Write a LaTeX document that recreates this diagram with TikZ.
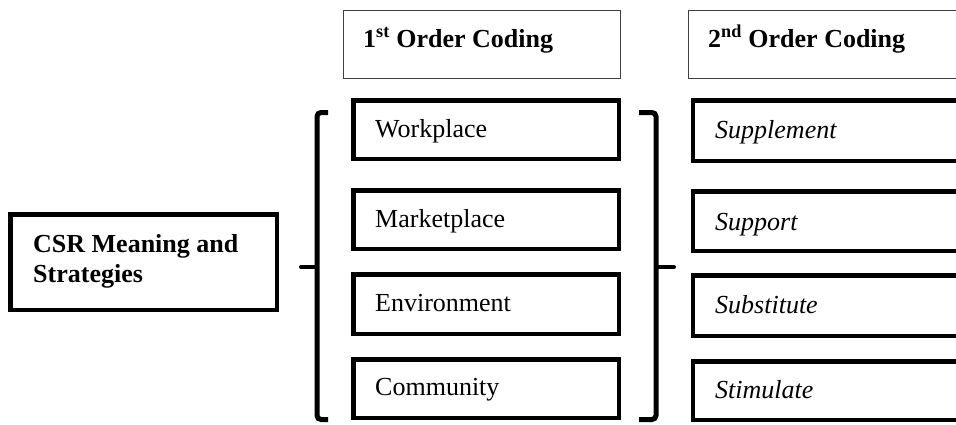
\documentclass[tikz,border=0pt]{standalone}
\usepackage{fontspec}
\setmainfont{Liberation Serif}
\begin{document}
\begin{tikzpicture}[x=1pt,y=-1pt,
  thinbox/.style={draw=black!75,line width=1pt,inner sep=0pt},
  thickbox/.style={draw=black,line width=4.5pt,inner sep=0pt},
  lbl/.style={anchor=base west,inner sep=0pt,font=\fontsize{26}{30}\selectfont},
  hdr/.style={lbl,font=\fontsize{26}{30}\selectfont\bfseries},
  brk/.style={draw=black,line width=5pt,rounded corners=4pt}]
\clip (0,0) rectangle (956,424);
\fill[white] (0,0) rectangle (956,424);
% headers
\node[thinbox,minimum width=277pt,minimum height=68pt] (h1) at (482,44.5) {};
\node[thinbox,minimum width=300pt,minimum height=68pt] (h2) at (838.5,44.5) {};
\node[hdr] (h1t) at (363,47) {1\textsuperscript{st} Order Coding};
\node[hdr] (h2t) at (708,47) {2\textsuperscript{nd} Order Coding};
% CSR box
\node[thickbox,minimum width=266.5pt,minimum height=95.5pt] (csr) at (143.5,262) {};
\node[hdr,align=left] (csrt) at (33,282) {CSR Meaning and\\Strategies};
% first order
\node[thickbox,minimum width=265.5pt,minimum height=58.5pt] (f1) at (486,129.5) {};
\node[thickbox,minimum width=265.5pt,minimum height=58.5pt] (f2) at (486,219.5) {};
\node[thickbox,minimum width=265.5pt,minimum height=59.5pt] (f3) at (486,304) {};
\node[thickbox,minimum width=265.5pt,minimum height=58.5pt] (f4) at (486,388.5) {};
\node[lbl] (f1t) at (375,137) {Workplace};
\node[lbl] (f2t) at (375,227) {Marketplace};
\node[lbl] (f3t) at (375,311) {Environment};
\node[lbl] (f4t) at (375,395) {Community};
% second order
\node[thickbox,minimum width=306.75pt,minimum height=60.5pt] (s1) at (846.6,130.5) {};
\node[thickbox,minimum width=306.75pt,minimum height=59.5pt] (s2) at (846.6,221) {};
\node[thickbox,minimum width=306.75pt,minimum height=60.5pt] (s3) at (846.6,305.5) {};
\node[thickbox,minimum width=306.75pt,minimum height=58.5pt] (s4) at (846.6,390.5) {};
\node[lbl,font=\fontsize{26}{30}\selectfont\itshape] (s1t) at (715,138) {Supplement};
\node[lbl,font=\fontsize{26}{30}\selectfont\itshape] (s2t) at (715,230) {Support};
\node[lbl,font=\fontsize{26}{30}\selectfont\itshape] (s3t) at (715,313) {Substitute};
\node[lbl,font=\fontsize{26}{30}\selectfont\itshape] (s4t) at (715,398) {Stimulate};
% brackets
\coordinate (lbt) at (328,112.5);
\coordinate (lbb) at (328,419.5);
\coordinate (lbm) at (301,267);
\draw[brk] (lbt) -- (317,112.5) -- (317,419.5) -- (lbb);
\draw[draw=black,line width=4pt,line cap=round] (317,267) -- (lbm);
\coordinate (rbt) at (639,112.5);
\coordinate (rbb) at (639,419.5);
\coordinate (rbm) at (674,267);
\draw[brk] (rbt) -- (656,112.5) -- (656,419.5) -- (rbb);
\draw[draw=black,line width=4pt,line cap=round] (656,267) -- (rbm);
\end{tikzpicture}
\end{document}
